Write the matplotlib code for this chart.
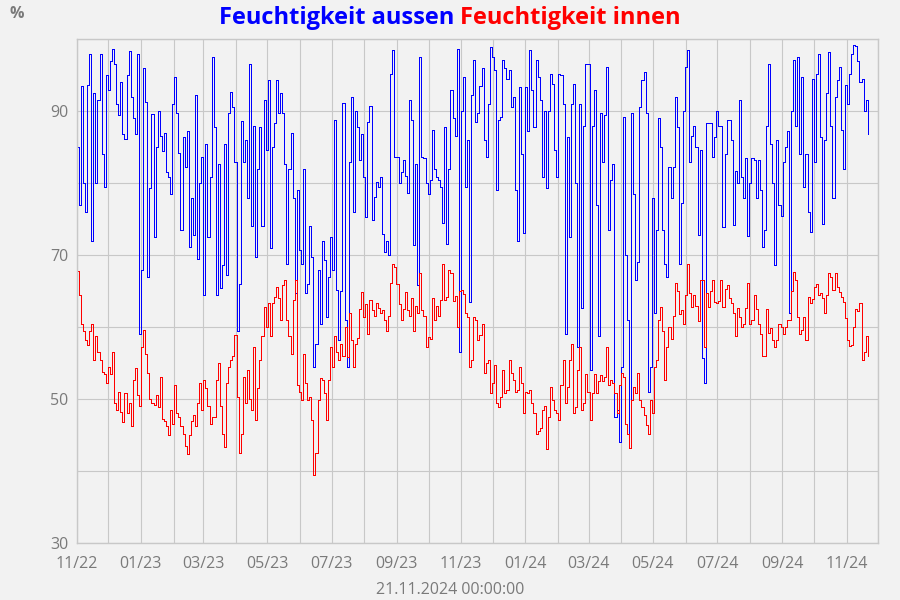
import pandas as pd
import matplotlib
matplotlib.use("Agg")
import matplotlib.pyplot as plt
import matplotlib.dates as mdates

plt.rcParams['font.family'] = ['Open Sans', 'DejaVu Sans']

# readings every ~2 days, 1 Nov 2022 .. 21 Nov 2024 (one line per month)
aussen = [
    85, 77, 93.5, 80, 76, 93.7, 98, 72, 92.5, 80, 91.5, 98, 84, 79.5, 95,
    93, 97, 98.7, 96.5, 91, 89.5, 94, 86.8, 86.2, 95, 98.4, 92, 89, 86.8, 98,
    59, 68, 96, 91.3, 67, 79.3, 89.6, 72.5, 85, 90, 86.5, 84.5, 87, 81.6, 80.8, 78.5,
    91, 94.8, 89.7, 84.2, 73.5, 86.4, 82.2, 87.3, 71.2, 78, 72.8, 92.2, 69.5, 80,
    83.7, 64.5, 85.5, 72.5, 80.9, 97.5, 87.8, 64.5, 82.7, 65.4, 68.6, 85.5, 67.2, 89.7, 92.7, 90.6,
    83, 59.5, 66, 88.7, 83, 86, 78, 96.6, 74, 88, 69.8, 82, 87.8, 74, 91.5,
    84.6, 94.3, 71, 85, 88.3, 94.3, 89.7, 92.5, 89.7, 82.7, 68.8, 82, 87, 78, 64.7, 79,
    70.7, 68.8, 82, 64.7, 66, 74, 69.8, 54.5, 57.7, 68, 60.5, 72, 69.3, 61.4, 67,
    72.5, 67.9, 88.8, 65.1, 58.2, 65, 91.1, 61, 54.5, 83, 92, 76, 90.1, 87.8, 83.2, 86.9,
    80.9, 75.3, 88.5, 90.8, 74.9, 78.1, 80.1, 79.5, 80.9, 73, 70.5, 72, 70, 95.2, 98.5, 83.7,
    83.7, 80, 81.5, 83.2, 81, 78.6, 91.5, 88.8, 71.4, 82.7, 65.8, 97.5, 83.7, 83.5, 80,
    78.5, 80.4, 87.4, 82, 80.9, 80.4, 79.5, 74.5, 87.8, 71.6, 82, 92.9, 89, 86.5, 98.7, 56.6,
    90.1, 94.8, 79.5, 86, 63.5, 92.2, 97.1, 88.5, 89.8, 93.5, 96, 86, 83.6, 91, 98.9,
    97.5, 95.7, 79, 88.8, 89.2, 97.1, 96, 94.5, 95.7, 90.6, 92, 79, 71.9, 93.4, 84.1, 73.1,
    93.4, 87.2, 98.5, 92.9, 87.8, 97.1, 94.8, 91.5, 80.9, 90, 79.3, 90, 95.2, 93.8, 84.6, 80.9,
    95.2, 95, 91, 59.1, 86.4, 72.5, 91, 93.8, 80, 57.3, 91, 62.6, 88, 96.6,
    96.6, 54, 88, 93, 77, 58.7, 89.7, 83, 89.5, 96.2, 73.5, 80.5, 82.7, 47.5, 48.5, 44,
    54.5, 89.2, 70, 61, 43.2, 89.7, 78.5, 66.5, 69, 90.6, 94.3, 95.5, 89.7, 51, 54.5,
    78, 61.9, 73.5, 89, 85, 73.5, 68.8, 67, 82.3, 78, 82.3, 92, 87.8, 68.8, 77.2, 90,
    96.2, 98.5, 83, 86.5, 88, 85, 72.8, 84.6, 55.7, 52.2, 88.3, 88.3, 88.3, 83.7, 86.4,
    90.1, 88, 88, 73.9, 84, 88.8, 88.8, 86, 74.2, 81.7, 80, 91.5, 80.9, 78, 83.5, 72.6,
    80, 83.5, 83.2, 78, 83.2, 79, 71.2, 73.5, 88, 96.6, 85.5, 80, 68.6, 86, 77, 75.5,
    83, 85, 87.3, 61.9, 90.1, 97.1, 88, 97.5, 84, 94.8, 79.5, 84, 76, 73.2, 94.5,
    83, 95.2, 98, 86.4, 74.4, 86, 92.5, 98.2, 88, 78, 92, 94.3, 96.2, 87.4, 82, 93.6,
    91, 95.2, 98, 99.2, 99, 97, 94, 94.5, 90.1, 91.5, 86.9,
]
innen = [
    67.8, 64.5, 60.5, 59.5, 58.2, 57.5, 59.5, 60.5, 55.5, 58.7, 56.5, 55.4, 53.8, 53.5, 52.2,
    54.5, 53.5, 56.5, 49.5, 48.5, 51, 48.2, 46.8, 50.8, 48, 49.5, 46.2, 52.6, 54.3, 50.6,
    49, 57.3, 59.6, 56.3, 53.6, 50, 49.5, 49.2, 50.5, 48.9, 53.1, 47.3, 47, 46.2, 45, 48.5,
    46.5, 52, 48, 47.5, 46.2, 45.2, 43.5, 42.3, 45, 47, 47.8, 46.2, 49.5, 52.2,
    48.5, 52.6, 51.5, 49, 46.5, 47.5, 47.5, 52.6, 55, 49, 45.2, 43.4, 52.2, 54.5, 55.4, 56,
    58.9, 50.3, 42.5, 45.2, 53.1, 49.5, 54, 50, 48.5, 57.3, 47.1, 51.5, 55.4, 58.7, 62.8,
    60, 63.3, 58.7, 63.3, 64.2, 65.6, 64, 61, 65.8, 66.5, 61, 58.7, 56.3, 63.8, 66.5, 52,
    51, 49.9, 56.3, 52.2, 49.9, 50.3, 47.1, 39.5, 42.5, 49.9, 52.9, 52.6, 50.8, 47.1, 52.6,
    57.3, 54.5, 58.7, 56.5, 55.4, 57.7, 56, 60, 55.9, 61.9, 58.2, 54.5, 57.7, 58.5, 62.5, 64.9,
    61.4, 63.2, 59.1, 63.8, 62.4, 61.5, 63.3, 62.6, 61.9, 62.4, 61, 59.5, 61.5, 66.1, 68.8, 68.4,
    66, 63.2, 61, 62.5, 64.9, 62.4, 61.5, 64, 59.5, 63, 62, 67.5, 62.4, 61.5, 57.3,
    58.6, 58.4, 64, 61, 62.9, 61.5, 63.8, 68.8, 63.8, 64.2, 67.9, 67.5, 63.6, 64.3, 60, 65,
    65.1, 64.6, 61.9, 61.4, 54.5, 55.4, 61.4, 61, 58.2, 58.9, 60.5, 53.6, 55, 55.4, 50.8,
    52.2, 54.8, 49.5, 48.9, 50.3, 54, 50.8, 51.2, 55.4, 53.6, 52.6, 51, 51.2, 54.5, 52.2, 48,
    51, 50.8, 51.2, 49.4, 48, 45.2, 45.5, 46, 48.5, 49, 43.1, 47.5, 51.7, 49.9, 48.5, 48,
    47.1, 52, 55.4, 49.5, 51.7, 55.5, 57.7, 48, 48.9, 54, 57.3, 48.5, 49.5, 53.5,
    51, 47.1, 50.8, 53.5, 50.8, 52.5, 53.3, 52.5, 53, 57.3, 52, 52.6, 52.2, 50.8, 48, 52,
    53.6, 53, 46.5, 45.2, 43.2, 49.9, 51.7, 50.8, 53.6, 49.9, 48.9, 47.8, 46.4, 45.2, 49.9,
    48, 54.5, 55.5, 61, 62.8, 59.5, 52.6, 57.3, 60, 58.3, 61.5, 66.1, 65, 61.8, 62.4, 60.5,
    64.4, 68.8, 64.7, 62.8, 64.5, 63, 60.9, 66.5, 66.5, 57.3, 64.7, 62.8, 65, 66.5, 63.5,
    63.3, 63.7, 66.5, 62.8, 65.3, 65.8, 64, 63.3, 61.9, 58.7, 62.7, 61.4, 60, 60.5, 62.6, 66.1,
    60.5, 61, 64.5, 62.5, 60.5, 59, 56, 56, 62.5, 59.2, 59.9, 58.2, 57.3, 58.2, 60.5, 60,
    59, 60, 61, 61, 65, 67.7, 66.5, 61.4, 59.1, 59.6, 61.4, 58.2, 64.2, 63.3, 63.9,
    65.6, 66, 64.5, 64.8, 64, 62, 64.5, 67.5, 67, 65.2, 67.5, 65.6, 64.9, 64.2, 63.5, 61.2,
    58.2, 57.4, 57.5, 60, 62.5, 62.2, 63.3, 55.4, 56.5, 58.8, 56,
]
start, end = '2022-11-01', '2024-11-21'
y_ticks = [30, 50, 70, 90]

t_aussen = pd.date_range(start, end, periods=len(aussen))
t_innen = pd.date_range(start, end, periods=len(innen))

bg = '#f2f2f2'
grid = '#c8c8c8'
txt = '#7a7a7a'

fig = plt.figure(figsize=(9, 6), dpi=100, facecolor=bg)
ax = fig.add_axes([0.0852, 0.095, 0.8907, 0.8395], facecolor=bg)

# crisp 1 px lines like rrdtool
ax.step(t_aussen, aussen, where='post', color='#0000ff', lw=0.72, antialiased=False)
ax.step(t_innen, innen, where='post', color='#ff0000', lw=0.72, antialiased=False)

ax.set_xlim(pd.Timestamp('2022-11-01'), pd.Timestamp('2024-12-01'))
ax.set_ylim(30, 100)

ax.xaxis.set_major_locator(mdates.MonthLocator(bymonth=[1, 3, 5, 7, 9, 11]))
ax.xaxis.set_minor_locator(mdates.MonthLocator())
ax.xaxis.set_major_formatter(mdates.DateFormatter('%m/%y'))
ax.set_yticks(range(30, 101, 10), minor=True)
ax.set_yticks(y_ticks)

ax.grid(True, which='both', color=grid, lw=0.8)
ax.set_axisbelow(True)
for s in ax.spines.values():
    s.set_color(grid)
    s.set_linewidth(1)
ax.tick_params(which='both', length=0, colors=txt, labelsize=11.5)
ax.tick_params(axis='x', pad=9.5)
ax.tick_params(axis='y', pad=6)

fig.text(17 / 900, 1 - 14 / 600, '%', color=txt, fontsize=11.5, fontweight='bold',
         ha='center', va='center')
fig.text(0.5, 1 - 590 / 600, '21.11.2024 00:00:00', color=txt, fontsize=11.5,
         ha='center', va='center')

# two-coloured title
fig.canvas.draw()
r = fig.canvas.get_renderer()
t1 = fig.text(0, 1 - 18 / 600, 'Feuchtigkeit aussen ', color='#0000ff', fontsize=17,
              fontweight='bold', va='center')
t2 = fig.text(0, 1 - 18 / 600, 'Feuchtigkeit innen', color='#ff0000', fontsize=17,
              fontweight='bold', va='center')
w1 = t1.get_window_extent(r).width
w2 = t2.get_window_extent(r).width
x0 = (900 - w1 - w2) / 2 / 900
t1.set_x(x0)
t2.set_x(x0 + w1 / 900)

fig.savefig('out.png', dpi=100, facecolor=bg)
